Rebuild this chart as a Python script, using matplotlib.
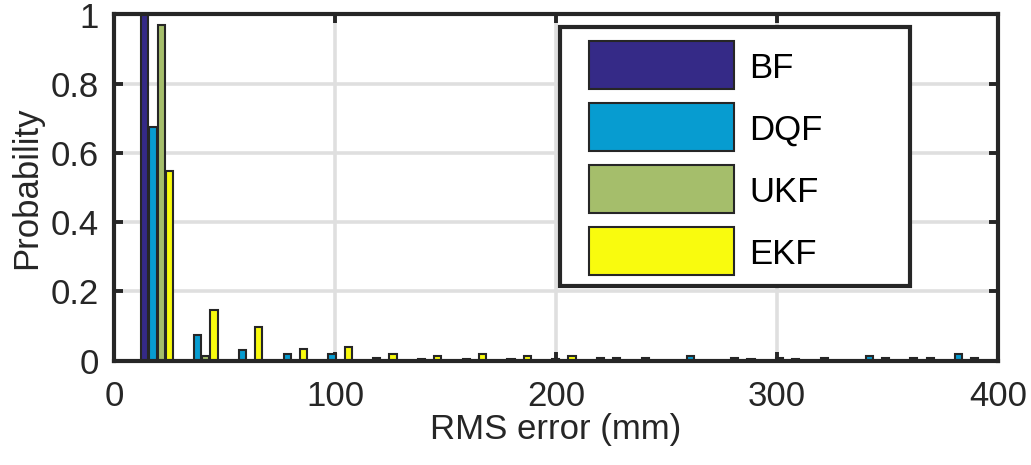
import matplotlib
matplotlib.use("Agg")
import matplotlib.pyplot as plt
from matplotlib.patches import Rectangle
import numpy as np

# Data
bin_centers = [19.5, 39.7, 60.0, 80.2, 100.5, 120.7, 141.0, 161.2, 181.5, 201.7,
               222.0, 242.2, 262.5, 282.7, 303.0, 323.2, 343.5, 363.7, 384.0]
series_names = ["BF", "DQF", "UKF", "EKF"]
bf = [1.0, 0, 0, 0, 0, 0, 0, 0, 0, 0, 0, 0, 0, 0, 0, 0, 0, 0, 0]
dqf = [0.676, 0.074, 0.031, 0.019, 0.018, 0.008, 0.005, 0.003, 0.003, 0.005,
       0.006, 0.006, 0.013, 0.008, 0.008, 0.008, 0.012, 0.006, 0.018]
ukf = [0.969, 0.013, 0, 0, 0, 0, 0, 0, 0, 0, 0, 0, 0, 0, 0, 0, 0, 0, 0]
ekf = [0.547, 0.146, 0.098, 0.033, 0.038, 0.019, 0.013, 0.018, 0.013, 0.013,
       0.006, 0, 0, 0.003, 0.003, 0, 0.006, 0.006, 0.008]
x_ticks = [0, 100, 200, 300, 400]
y_ticks = [0, 0.2, 0.4, 0.6, 0.8, 1]
y_tick_labels = ["0", "0.2", "0.4", "0.6", "0.8", "1"]

colors = ["#352a87", "#079cd0", "#a5be6b", "#f9fb0e"]
dark = "#262626"
FS = 25

plt.rcParams["font.family"] = ["Liberation Sans", "DejaVu Sans"]

W, H = 1031, 465
fig = plt.figure(figsize=(W / 100, H / 100), dpi=100)
ax = fig.add_axes([114 / W, 1 - 360.5 / H, (998 - 114) / W, (360.5 - 14.5) / H])

step = 3.7
bw = 3.2
centers = np.array(bin_centers)
all_series = [bf, dqf, ukf, ekf]
for i, (vals, name, col) in enumerate(zip(all_series, series_names, colors)):
    ax.bar(centers + (i - 1.5) * step, vals, width=bw, color=col,
           edgecolor=dark, linewidth=1.5, label=name, zorder=3)

ax.set_xlim(0, 400)
ax.set_ylim(0, 1)
ax.set_xticks(x_ticks)
ax.set_yticks(y_ticks)
ax.set_yticklabels(y_tick_labels)
ax.grid(True, color="#dfdfdf", linewidth=2.6, zorder=0)
ax.set_axisbelow(True)
for s in ax.spines.values():
    s.set_linewidth(3.0)
    s.set_color(dark)
    s.set_zorder(5)
ax.tick_params(direction="in", length=6.5, width=2.8, color=dark,
               labelsize=FS, labelcolor=dark, top=True, right=True)
ax.tick_params(axis="x", pad=14)
ax.tick_params(axis="y", pad=11)
ax.set_xlabel("RMS error (mm)", fontsize=FS, color=dark, labelpad=0)
ax.set_ylabel("Probability", fontsize=FS, color=dark, labelpad=5)

# Legend drawn as a box in figure pixel coordinates (top-left origin)
def fx(px):
    return px / W

def fy(py):
    return 1 - py / H

frame = Rectangle((fx(560), fy(286)), fx(910) - fx(560), fy(27) - fy(286),
                  transform=fig.transFigure, facecolor="white", edgecolor=dark,
                  linewidth=3.0, zorder=10)
fig.patches.append(frame)
patch_tops = [41, 103, 165, 227]
for name, col, top in zip(series_names, colors, patch_tops):
    r = Rectangle((fx(589), fy(top + 48)), fx(734) - fx(589), fy(top) - fy(top + 48),
                  transform=fig.transFigure, facecolor=col, edgecolor=dark,
                  linewidth=1.5, zorder=11)
    fig.patches.append(r)
    fig.text(fx(749), fy(top + 24), name, fontsize=FS, color="black",
             ha="left", va="center_baseline", zorder=12)

fig.savefig("out.png", dpi=100)
